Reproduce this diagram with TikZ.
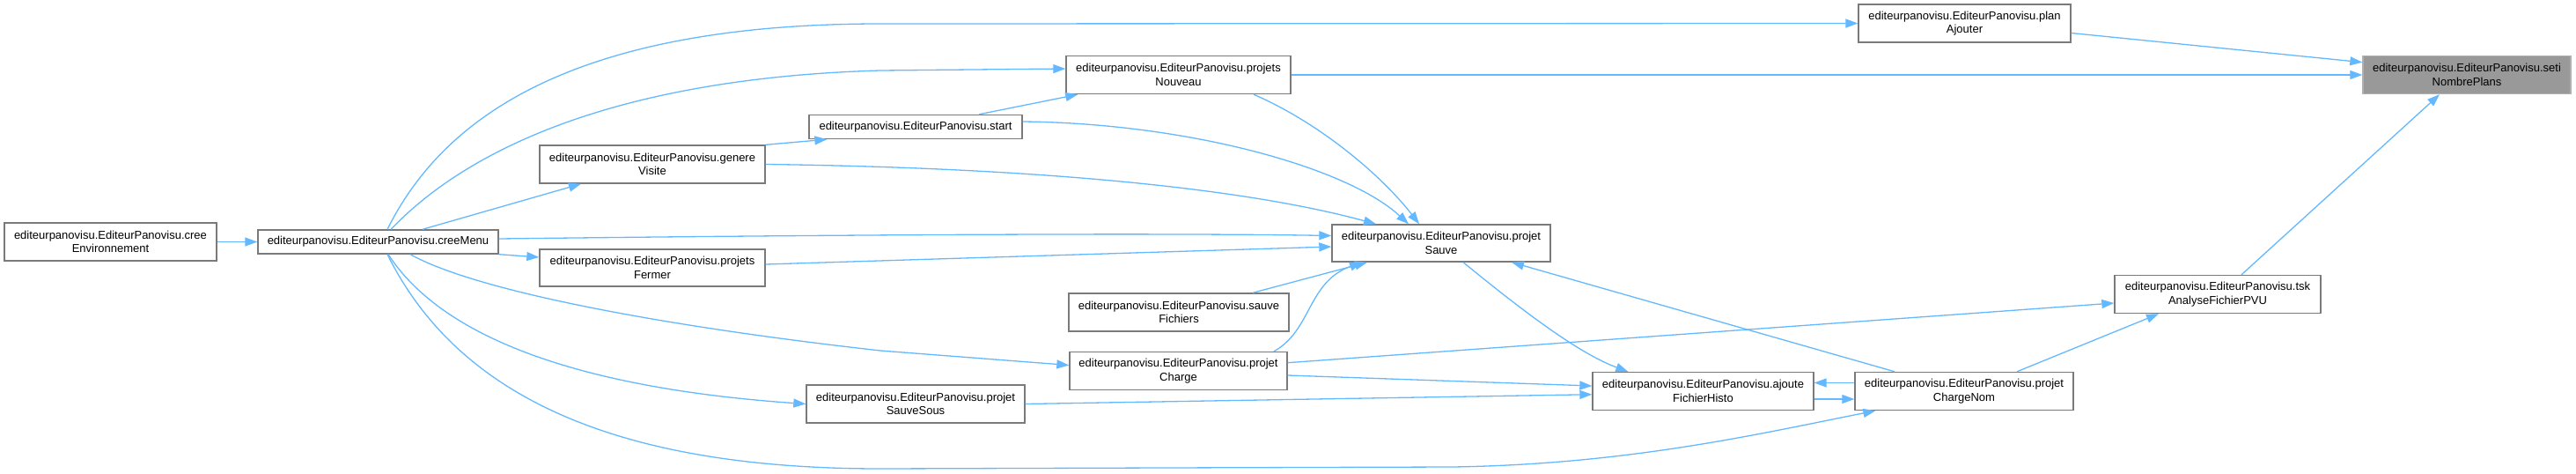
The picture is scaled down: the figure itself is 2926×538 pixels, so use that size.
\documentclass[tikz,border=0pt]{standalone}
\usepackage{fontspec}
\setmainfont{Liberation Sans}
\usetikzlibrary{arrows.meta}
\definecolor{edgeblue}{HTML}{63B8FF}
\definecolor{boxgray}{HTML}{7A7A7A}
\definecolor{selgray}{HTML}{999999}
\definecolor{selborder}{HTML}{B0B0B0}
\tikzset{
  fn/.style={draw=boxgray, line width=1.4pt, fill=white, inner sep=0pt, align=center,
    font=\fontsize{13}{15.5}\selectfont, minimum height=43pt},
  sel/.style={fn, fill=selgray, draw=selborder},
  e/.style={draw=edgeblue, line width=1.3pt, -{Triangle[length=14pt,width=10pt]}}
}
\begin{document}
\begin{tikzpicture}[x=1pt,y=-1pt]
\useasboundingbox (0,0) rectangle (2926,538);
% nodes
\node[fn, minimum width=241pt] (creeEnv) at (125.5,274.5) {editeurpanovisu.EditeurPanovisu.cree\\Environnement};
\node[fn, minimum width=273pt, minimum height=27pt] (creeMenu) at (429.5,274.5) {editeurpanovisu.EditeurPanovisu.creeMenu};
\node[fn, minimum width=256pt] (genere) at (741,186.5) {editeurpanovisu.EditeurPanovisu.genere\\Visite};
\node[fn, minimum width=256pt, minimum height=42pt] (fermer) at (741,304) {editeurpanovisu.EditeurPanovisu.projets\\Fermer};
\node[fn, minimum width=242pt, minimum height=27pt] (start) at (1040,144) {editeurpanovisu.EditeurPanovisu.start};
\node[fn, minimum width=248pt] (sauveSous) at (1040,458.5) {editeurpanovisu.EditeurPanovisu.projet\\SauveSous};
\node[fn, minimum width=255pt] (nouveau) at (1338.5,85) {editeurpanovisu.EditeurPanovisu.projets\\Nouveau};
\node[fn, minimum width=248pt, minimum height=42pt] (sauve) at (1637,276) {editeurpanovisu.EditeurPanovisu.projet\\Sauve};
\node[fn, minimum width=250pt] (fichiers) at (1339,354.5) {editeurpanovisu.EditeurPanovisu.sauve\\Fichiers};
\node[fn, minimum width=247pt] (charge) at (1338.5,421) {editeurpanovisu.EditeurPanovisu.projet\\Charge};
\node[fn, minimum width=251pt] (ajoute) at (1934.5,444) {editeurpanovisu.EditeurPanovisu.ajoute\\FichierHisto};
\node[fn, minimum width=241pt] (plan) at (2231.5,26.5) {editeurpanovisu.EditeurPanovisu.plan\\Ajouter};
\node[sel, minimum width=236pt] (seti) at (2802,85) {editeurpanovisu.EditeurPanovisu.seti\\NombrePlans};
\node[fn, minimum width=234pt] (tsk) at (2519,334) {editeurpanovisu.EditeurPanovisu.tsk\\AnalyseFichierPVU};
\node[fn, minimum width=248pt] (chargeNom) at (2231,444) {editeurpanovisu.EditeurPanovisu.projet\\ChargeNom};
% edges
\draw[e] (creeEnv.east) -- (creeMenu.west);
\draw[e] ([xshift=10.5pt]creeMenu.north) .. controls (500,140) and (640,27) .. (1000,27) -- (plan.west);
\draw[e] ([xshift=14.5pt]creeMenu.north) .. controls (540,160) and (720,88) .. (1000,80) -- ([yshift=7pt]nouveau.west);
\draw[e] ([xshift=50.5pt]creeMenu.north) -- ([xshift=-81pt]genere.south);
\draw[e] ([yshift=3.5pt]creeMenu.east) .. controls (900,267) and (1300,264) .. ([yshift=8.5pt]sauve.west);
\draw[e] (creeMenu.south east) -- ([yshift=12pt]fermer.west);
\draw[e] ([xshift=36.5pt]creeMenu.south) .. controls (540,330) and (750,370) .. (1000,398) -- ([yshift=6.5pt]charge.west);
\draw[e] ([xshift=11.5pt]creeMenu.south) .. controls (500,380) and (650,440) .. (sauveSous.west);
\draw[e] ([xshift=10.5pt]creeMenu.south) .. controls (520,450) and (700,532) .. (1000,532) -- (1650,530) .. controls (1850,527) and (2000,492) .. ([xshift=24pt]chargeNom.south west);
\draw[e] (genere.north east) -- ([xshift=21pt]start.south west);
\draw[e] (genere.east) .. controls (1150,190) and (1400,210) .. ([xshift=-74pt]sauve.north);
\draw[e] ([xshift=72pt]start.north) -- ([xshift=14pt]nouveau.south west);
\draw[e] ([yshift=6pt]start.east) .. controls (1350,140) and (1530,190) .. ([xshift=-37pt]sauve.north);
\draw[e] ([xshift=85.5pt]nouveau.south) .. controls (1500,140) and (1570,200) .. ([xshift=-25pt]sauve.north);
\draw[e] (nouveau.east) -- (seti.west);
\draw[e] ([yshift=-11pt]plan.east) -- ([yshift=14.3pt]seti.west);
\draw[e] ([yshift=4pt]fermer.east) -- ([yshift=-4pt]sauve.west);
\draw[e] ([xshift=84pt]fichiers.north) -- ([xshift=-84pt]sauve.south);
\draw[e] ([xshift=108.5pt]charge.north) .. controls (1490,375) and (1485,320) .. ([xshift=-90pt]sauve.south);
\draw[e] ([xshift=25pt]sauve.south) .. controls (1720,345) and (1790,400) .. ([xshift=41pt]ajoute.north west);
\draw[e] ([xshift=-79pt]chargeNom.north) -- ([xshift=80pt]sauve.south);
\draw[e] ([yshift=9.3pt]charge.east) -- ([yshift=-10pt]tsk.west);
\draw[e] ([yshift=-5pt]charge.east) -- ([yshift=6pt]ajoute.west);
\draw[e] (sauveSous.east) -- ([yshift=-3.7pt]ajoute.west);
\draw[e] ([yshift=9.5pt]chargeNom.west) -- ([yshift=9.5pt]ajoute.east);
\draw[e] ([yshift=-9pt]ajoute.east) -- ([yshift=-9pt]chargeNom.west);
\draw[e] ([xshift=60pt]chargeNom.north) -- ([xshift=-67pt]tsk.south);
\draw[e] ([xshift=27pt]tsk.north) -- ([xshift=-31pt]seti.south);
\end{tikzpicture}
\end{document}
